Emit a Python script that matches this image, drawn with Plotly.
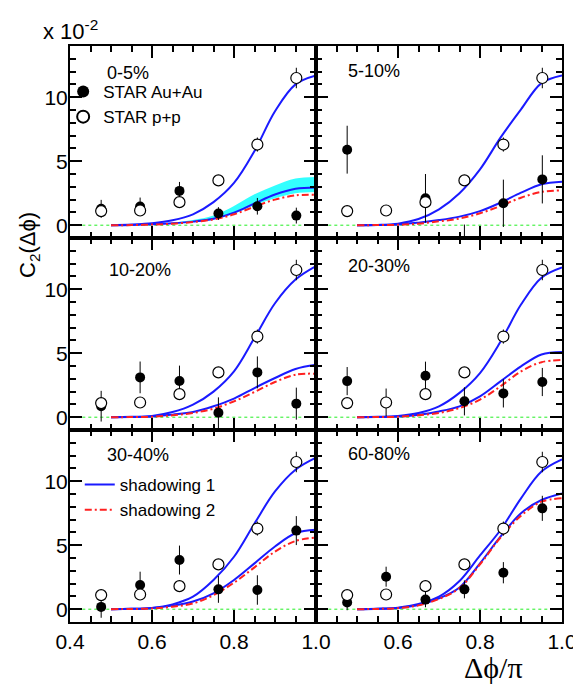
import plotly.graph_objects as go
from plotly.subplots import make_subplots
import numpy as np

# ---------------- data (units of 1e-2) ----------------
x_data = [0.476, 0.571, 0.667, 0.762, 0.857, 0.952]
pp_y = [1.1, 1.15, 1.8, 3.5, 6.3, 11.5]
pp_err = [0.3, 0.3, 0.3, 0.3, 0.55, 0.8]

centralities = ["0-5%", "5-10%", "10-20%", "20-30%", "30-40%", "60-80%"]

auau_0_5 = [1.28, 1.46, 2.68, 0.91, 1.48, 0.75]
auau_0_5_err = [0.7, 0.7, 0.7, 0.5, 0.65, 0.62]
auau_5_10 = [5.9, None, 2.1, -1.85, 1.71, 3.58]
auau_5_10_err = [1.87, 0, 1.9, 1.9, 1.85, 1.88]
auau_10_20 = [0.86, 3.11, 2.83, 0.35, 3.5, 1.06]
auau_10_20_err = [1.2, 1.24, 1.2, 1.2, 1.25, 1.25]
auau_20_30 = [2.82, 1.16, 3.24, 1.24, 1.86, 2.75]
auau_20_30_err = [1.1, 1.08, 1.1, 1.1, 1.1, 1.1]
auau_30_40 = [0.18, 1.89, 3.84, 1.55, 1.5, 6.14]
auau_30_40_err = [0.85, 1.04, 1.13, 1.05, 1.15, 1.13]
auau_60_80 = [0.52, 2.54, 0.75, 1.55, 2.85, 7.88]
auau_60_80_err = [0.6, 0.78, 0.6, 0.7, 0.83, 0.98]

x_curve = [0.5, 0.55, 0.6, 0.65, 0.7, 0.75, 0.8, 0.85, 0.9, 0.95, 1.0]

pp_curve_0_5 = [0, 0.05, 0.15, 0.38, 0.85, 1.8, 3.3, 5.8, 8.9, 11.0, 11.7]
sh1_0_5 = [0, 0.02, 0.07, 0.15, 0.28, 0.5, 0.98, 1.7, 2.4, 2.85, 2.95]
sh2_0_5 = [0, 0.01, 0.05, 0.12, 0.25, 0.45, 0.85, 1.45, 2.0, 2.33, 2.37]

pp_curve_5_10 = [0, 0.02, 0.12, 0.48, 1.24, 2.5, 4.36, 6.84, 9.05, 11.1, 11.7]
sh1_5_10 = [0, 0.02, 0.05, 0.2, 0.4, 0.67, 1.1, 1.76, 2.54, 3.2, 3.4]
sh2_5_10 = [0, 0.01, 0.03, 0.12, 0.3, 0.52, 0.93, 1.5, 2.15, 2.6, 2.72]

pp_curve_10_20 = [0, 0.03, 0.1, 0.4, 0.98, 2.0, 3.58, 6.2, 8.9, 10.75, 11.8]
sh1_10_20 = [0, 0.02, 0.05, 0.2, 0.4, 0.85, 1.45, 2.28, 3.06, 3.77, 4.1]
sh2_10_20 = [0, 0.01, 0.03, 0.15, 0.33, 0.67, 1.24, 1.97, 2.75, 3.32, 3.4]

pp_curve_20_30 = [0, 0.03, 0.1, 0.33, 0.85, 1.9, 3.45, 5.9, 8.8, 10.9, 11.7]
sh1_20_30 = [0, 0.02, 0.05, 0.2, 0.45, 0.85, 1.63, 2.8, 3.97, 4.9, 5.1]
sh2_20_30 = [0, 0.01, 0.03, 0.15, 0.33, 0.72, 1.37, 2.41, 3.58, 4.3, 4.47]

pp_curve_30_40 = [0, 0.03, 0.1, 0.38, 0.98, 2.28, 4.1, 6.7, 9.2, 10.9, 11.84]
sh1_30_40 = [0, 0.03, 0.1, 0.28, 0.6, 1.24, 2.28, 3.58, 4.9, 5.93, 6.2]
sh2_30_40 = [0, 0.02, 0.05, 0.2, 0.45, 1.1, 2.07, 3.27, 4.5, 5.33, 5.6]

pp_curve_60_80 = [0, 0.04, 0.12, 0.4, 0.98, 2.2, 4.2, 6.19, 8.66, 10.75, 11.7]
sh1_60_80 = [0, 0.03, 0.1, 0.33, 0.85, 1.7, 3.58, 5.67, 7.5, 8.53, 9.05]
sh2_60_80 = [0, 0.02, 0.08, 0.3, 0.8, 1.65, 3.5, 5.6, 7.3, 8.4, 8.66]

band_x = [0.65, 0.7, 0.75, 0.8, 0.85, 0.9, 0.95, 1.0]
band_hi_0_5 = [0.2, 0.4, 0.75, 1.5, 2.41, 3.1, 3.64, 3.77]
band_lo_0_5 = [0.12, 0.25, 0.45, 0.9, 1.55, 2.1, 2.5, 2.6]

zero_line_x = [0.43, 0.975]
zero_line_y = [0, 0]

x_ticks_left = [0.4, 0.6, 0.8, 1.0]
x_ticks_right = [0.6, 0.8, 1.0]
y_ticks = [0, 5, 10]

auau_all = [auau_0_5, auau_5_10, auau_10_20, auau_20_30, auau_30_40, auau_60_80]
auau_err_all = [auau_0_5_err, auau_5_10_err, auau_10_20_err, auau_20_30_err,
                auau_30_40_err, auau_60_80_err]
pp_curves = [pp_curve_0_5, pp_curve_5_10, pp_curve_10_20, pp_curve_20_30,
             pp_curve_30_40, pp_curve_60_80]
sh1_all = [sh1_0_5, sh1_5_10, sh1_10_20, sh1_20_30, sh1_30_40, sh1_60_80]
sh2_all = [sh2_0_5, sh2_5_10, sh2_10_20, sh2_20_30, sh2_30_40, sh2_60_80]

# ---------------- figure ----------------
FONT = "Arial, Liberation Sans, Helvetica, sans-serif"
BLUE = "#1a1aff"
RED = "#ff2020"

fig = make_subplots(rows=3, cols=2, horizontal_spacing=0, vertical_spacing=0)

for i in range(6):
    r, c = i // 2 + 1, i % 2 + 1
    if i == 0:
        fig.add_trace(go.Scatter(x=band_x, y=band_lo_0_5, mode="lines",
                                 line=dict(width=0, color="cyan", shape="spline"),
                                 showlegend=False, hoverinfo="skip"), row=r, col=c)
        fig.add_trace(go.Scatter(x=band_x, y=band_hi_0_5, mode="lines",
                                 line=dict(width=0, color="cyan", shape="spline"),
                                 fill="tonexty", fillcolor="#33ffff",
                                 showlegend=False, hoverinfo="skip"), row=r, col=c)
    fig.add_trace(go.Scatter(x=zero_line_x, y=zero_line_y, mode="lines",
                             line=dict(color="#22ee22", width=1, dash="dot"),
                             showlegend=False, hoverinfo="skip"), row=r, col=c)
    fig.add_trace(go.Scatter(x=x_curve, y=pp_curves[i], mode="lines",
                             line=dict(color=BLUE, width=2, shape="spline"),
                             showlegend=False), row=r, col=c)
    fig.add_trace(go.Scatter(x=x_curve, y=sh1_all[i], mode="lines",
                             line=dict(color=BLUE, width=2, shape="spline"),
                             name="shadowing 1", showlegend=(i == 4),
                             legend="legend2"), row=r, col=c)
    fig.add_trace(go.Scatter(x=x_curve, y=sh2_all[i], mode="lines",
                             line=dict(color=RED, width=2, shape="spline",
                                       dash="7px,3px,2px,3px"),
                             name="shadowing 2", showlegend=(i == 4),
                             legend="legend2"), row=r, col=c)
    fig.add_trace(go.Scatter(x=x_data, y=auau_all[i], mode="markers",
                             marker=dict(symbol="circle", size=10, color="black"),
                             error_y=dict(type="data", array=auau_err_all[i],
                                          color="black", thickness=1, width=0),
                             name="STAR Au+Au", showlegend=(i == 0),
                             legend="legend"), row=r, col=c)
    fig.add_trace(go.Scatter(x=x_data, y=pp_y, mode="markers",
                             marker=dict(symbol="circle", size=11, color="white",
                                         line=dict(color="black", width=1.2)),
                             error_y=dict(type="data", array=pp_err,
                                          color="black", thickness=1, width=0),
                             name="STAR p+p", showlegend=(i == 0),
                             legend="legend"), row=r, col=c)

x_minor = list(np.round(np.arange(0.4, 1.0001, 0.05), 3))
y_minor = list(range(-1, 15))

for i in range(6):
    r, c = i // 2 + 1, i % 2 + 1
    xt = x_ticks_left if c == 1 else x_ticks_right
    fig.update_xaxes(row=r, col=c, range=[0.4, 1.0], showline=True,
                     linecolor="black", linewidth=2, mirror="allticks",
                     ticks="inside", ticklen=12, tickwidth=1.5, tickcolor="black",
                     tickvals=xt, ticktext=[f"{v:.1f}" for v in xt],
                     showticklabels=(r == 3),
                     tickfont=dict(family=FONT, size=21, color="black"),
                     minor=dict(ticks="inside", ticklen=6, tickwidth=1.5,
                                tickcolor="black", tickvals=x_minor, showgrid=False),
                     showgrid=False, zeroline=False)
    fig.update_yaxes(row=r, col=c, range=[-1, 14], showline=True,
                     linecolor="black", linewidth=2, mirror="allticks",
                     ticks="inside", ticklen=12, tickwidth=1.5, tickcolor="black",
                     tickvals=y_ticks, showticklabels=(c == 1),
                     ticklabelstandoff=-4,
                     tickfont=dict(family=FONT, size=21, color="black"),
                     minor=dict(ticks="inside", ticklen=6, tickwidth=1.5,
                                tickcolor="black", tickvals=y_minor, showgrid=False),
                     showgrid=False, zeroline=False)

W, H = 581, 687
L, R, T, B = 62, 15, 38, 73
pw, ph = W - L - R, H - T - B


def px(xp):
    return (xp - L) / pw


def py(yp):
    return (H - B - yp) / ph


label_pos = [(98, 65), (345, 63), (100, 262), (345, 258), (98, 447), (345, 446)]
annotations = []
for lab, (xp, yp) in zip(centralities, label_pos):
    annotations.append(dict(text=lab, x=px(xp), y=py(yp), xref="paper", yref="paper",
                            xanchor="left", yanchor="middle", showarrow=False,
                            font=dict(family=FONT, size=18, color="black")))

annotations.append(dict(text="x 10<sup>-2</sup>", x=px(32), y=py(22),
                        xref="paper", yref="paper", xanchor="left", yanchor="middle",
                        showarrow=False, font=dict(family=FONT, size=22, color="black")))
annotations.append(dict(text="C<sub>2</sub>(Δϕ)", x=px(20), y=py(237),
                        xref="paper", yref="paper", xanchor="center", yanchor="middle",
                        textangle=-90, showarrow=False,
                        font=dict(family=FONT, size=22, color="black")))
annotations.append(dict(text="Δϕ/π", x=px(496), y=py(659),
                        xref="paper", yref="paper", xanchor="center", yanchor="middle",
                        showarrow=False, borderpad=0,
                        font=dict(family="Liberation Serif, Times New Roman, serif",
                                  size=30, color="black")))

fig.update_layout(
    width=W, height=H,
    margin=dict(l=L, r=R, t=T, b=B),
    paper_bgcolor="white", plot_bgcolor="white",
    annotations=annotations,
    legend=dict(x=px(55), y=py(66), xanchor="left", yanchor="top",
                traceorder="normal",
                bgcolor="rgba(0,0,0,0)", font=dict(family=FONT, size=17, color="black"),
                itemsizing="constant", tracegroupgap=0),
    legend2=dict(x=px(72), y=py(459), xanchor="left", yanchor="top",
                 traceorder="normal",
                 bgcolor="rgba(0,0,0,0)", font=dict(family=FONT, size=17, color="black"),
                 tracegroupgap=0),
)

fig.write_html("out.html")
